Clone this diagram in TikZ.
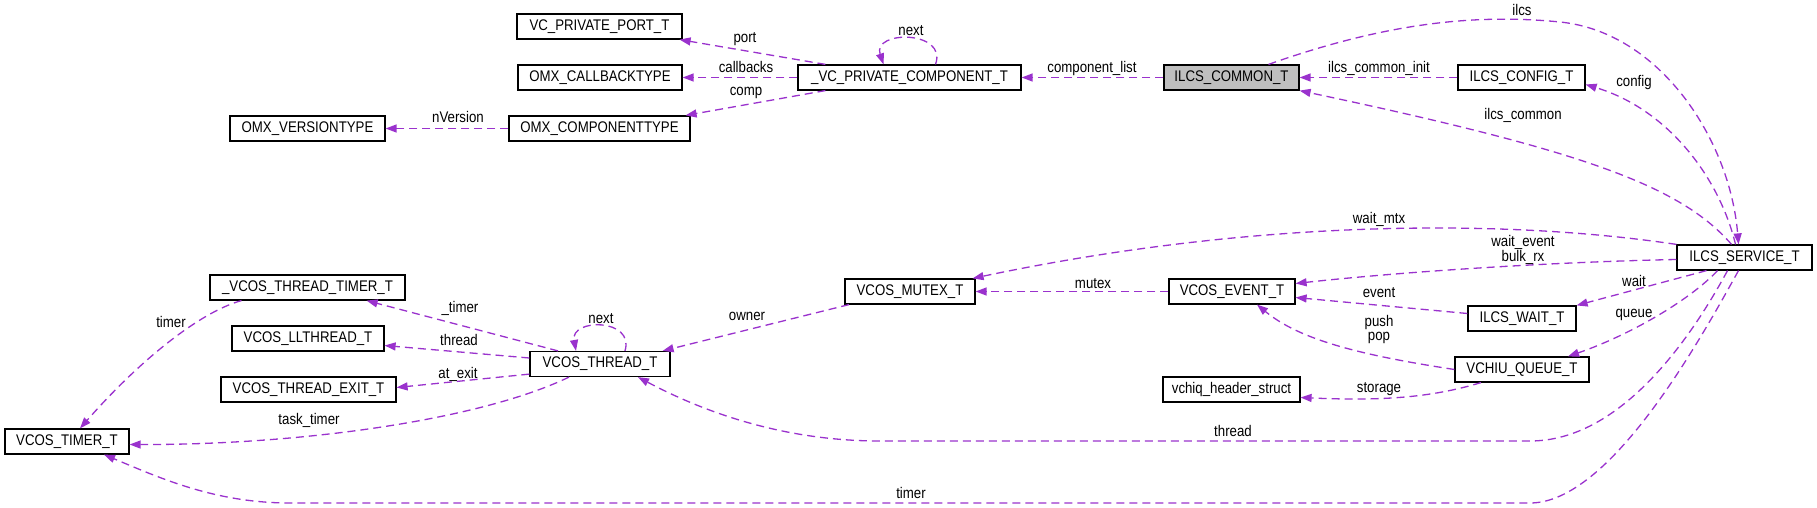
\documentclass[tikz,border=0pt]{standalone}
\usepackage{fontspec}
\setmainfont{Liberation Sans}[FakeStretch=0.86]
\usepackage{xcolor}
\usepackage{tikz}
\usetikzlibrary{arrows.meta}
\definecolor{orchid}{HTML}{9A32CD}
\definecolor{boxgray}{HTML}{BFBFBF}
\newcommand{\dfont}{\fontsize{15.4}{14}\selectfont}

\begin{document}
\begin{tikzpicture}[x=1pt,y=-1pt,
  cls/.style={draw=black,line width=1.2pt,minimum height=25pt,inner xsep=2pt,inner ysep=0pt,font=\dfont},
  mem/.style={draw=orchid,line width=1.3pt,dash pattern=on 8pt off 5pt,-{Triangle[length=11pt,width=8pt]}},
  lbl/.style={inner sep=0pt,text height=11pt,text depth=3pt,font=\dfont},
  lbl2/.style={inner sep=0pt,align=center,font=\dfont}]
\useasboundingbox (0,0) rectangle (1817,508);
\node[cls,minimum width=165pt] (port) at (599.5,26.5) {VC\_PRIVATE\_PORT\_T};
\node[cls,minimum width=164pt] (cb) at (600,77.5) {OMX\_CALLBACKTYPE};
\node[cls,minimum width=181pt] (omxcomp) at (599.5,128.5) {OMX\_COMPONENTTYPE};
\node[cls,minimum width=155pt] (omxver) at (307.5,128.5) {OMX\_VERSIONTYPE};
\node[cls,minimum width=223pt] (vccomp) at (909.5,77.5) {\_VC\_PRIVATE\_COMPONENT\_T};
\node[cls,fill=boxgray,minimum width=135pt] (common) at (1231.5,77.5) {ILCS\_COMMON\_T};
\node[cls,minimum width=127pt] (config) at (1521.5,77.5) {ILCS\_CONFIG\_T};
\node[cls,minimum width=135pt] (svc) at (1744.5,257.5) {ILCS\_SERVICE\_T};
\node[cls,minimum width=195pt] (ttimer) at (307.5,287.5) {\_VCOS\_THREAD\_TIMER\_T};
\node[cls,minimum width=152pt] (llthread) at (308,338.5) {VCOS\_LLTHREAD\_T};
\node[cls,minimum width=175pt] (texit) at (308.5,389.5) {VCOS\_THREAD\_EXIT\_T};
\node[cls,minimum width=140pt] (thread) at (600,364) {VCOS\_THREAD\_T};
\node[cls,minimum width=124pt] (timer) at (67,441.5) {VCOS\_TIMER\_T};
\node[cls,minimum width=130pt] (mutex) at (910,291.5) {VCOS\_MUTEX\_T};
\node[cls,minimum width=126pt] (event) at (1232,291.5) {VCOS\_EVENT\_T};
\node[cls,minimum width=137pt] (hdr) at (1231.5,389.5) {vchiq\_header\_struct};
\node[cls,minimum width=108pt] (wait) at (1522,318.5) {ILCS\_WAIT\_T};
\node[cls,minimum width=134pt] (queue) at (1522,369.5) {VCHIU\_QUEUE\_T};
\draw[mem] ([xshift=28pt]vccomp.north west) -- ([xshift=-3pt]port.south east);
\draw[mem] (vccomp.west) -- (cb.east);
\draw[mem] ([xshift=28pt]vccomp.south west) -- ([xshift=-5pt]omxcomp.north east);
\draw[mem] ([xshift=26pt]vccomp.north) .. controls (948,30) and (872,30) .. ([xshift=-26pt]vccomp.north);
\draw[mem] (omxcomp.west) -- (omxver.east);
\draw[mem] (common.west) -- (vccomp.east);
\draw[mem] (config.west) -- (common.east);
\draw[mem] ([xshift=37pt]common.north) .. controls (1380,25) and (1470,13) .. (1560,22) .. controls (1660,32) and (1730,140) .. ([xshift=-6pt]svc.north);
\draw[mem] ([xshift=-13pt]svc.north) .. controls (1680,185) and (1580,150) .. (common.south east);
\draw[mem] ([xshift=-9pt]svc.north) .. controls (1720,180) and (1670,110) .. ([yshift=-7pt]config.east);
\draw[mem] (svc.north west) .. controls (1500,218) and (1250,220) .. ([xshift=-3pt]mutex.north east);
\draw[mem] ([yshift=-2pt]svc.west) .. controls (1550,262) and (1400,272) .. ([yshift=8pt]event.east);
\draw[mem] ([yshift=5pt]wait.west) -- ([yshift=-6pt]event.east);
\draw[mem] (queue.west) .. controls (1360,355) and (1300,340) .. ([xshift=25pt]event.south);
\draw[mem] ([xshift=-41pt]queue.south) .. controls (1430,398) and (1380,401) .. ([yshift=-8pt]hdr.east);
\draw[mem] ([xshift=-38pt]svc.south) -- (wait.north east);
\draw[mem] ([xshift=-27pt]svc.south) .. controls (1690,300) and (1630,335) .. ([xshift=46pt]queue.north);
\draw[mem] ([xshift=-17pt]svc.south) .. controls (1690,340) and (1620,441) .. (1530,441) -- (880,441) .. controls (780,441) and (700,410) .. ([xshift=38pt]thread.south);
\draw[mem] ([xshift=-6pt]svc.south) .. controls (1700,340) and (1610,503) .. (1530,503) -- (290,503) .. controls (215,503) and (160,478) .. ([xshift=37pt]timer.south);
\draw[mem] ([xshift=-31pt]thread.south) .. controls (480,420) and (300,445) .. ([yshift=-3pt]timer.east);
\draw[mem] ([xshift=-66pt]ttimer.south) .. controls (200,312) and (140,360) .. ([xshift=13pt]timer.north);
\draw[mem] ([xshift=-42pt]thread.north) -- ([xshift=-39pt]ttimer.south east);
\draw[mem] ([yshift=6pt]thread.west) -- ([yshift=-7pt]llthread.east);
\draw[mem] ([yshift=3pt]thread.south west) -- ([yshift=2pt]texit.east);
\draw[mem] ([xshift=25pt]thread.north) .. controls (635,318) and (570,318) .. ([xshift=-24pt]thread.north);
\draw[mem] ([xshift=-61pt]mutex.south) -- ([xshift=-8pt]thread.north east);
\draw[mem] (event.west) -- (mutex.east);
\node[lbl] (lport) at (745,39) {port};
\node[lbl] (lcallbacks) at (746,69) {callbacks};
\node[lbl] (lcomp) at (746,92) {comp};
\node[lbl] (lnextc) at (911,32) {next};
\node[lbl] (lcomplist) at (1092,69) {component\_list};
\node[lbl] (lversion) at (458,119) {nVersion};
\node[lbl] (lilcs) at (1522,12) {ilcs};
\node[lbl] (linit) at (1379,69) {ilcs\_common\_init};
\node[lbl] (lconfig) at (1634,83) {config};
\node[lbl] (lcommon) at (1523,116) {ilcs\_common};
\node[lbl] (lwaitmtx) at (1379,219) {wait\_mtx};
\node[lbl2] (lwaitevent) at (1523,250) {wait\_event\\bulk\_rx};
\node[lbl] (levent) at (1379,293) {event};
\node[lbl] (lwait) at (1634,282) {wait};
\node[lbl] (lqueue) at (1634,313) {queue};
\node[lbl2] (lpushpop) at (1379,330) {push\\pop};
\node[lbl] (lstorage) at (1379,388) {storage};
\node[lbl] (lthreadsvc) at (1233,432) {thread};
\node[lbl] (ltimersvc) at (911,494) {timer};
\node[lbl] (lmutex) at (1093,284) {mutex};
\node[lbl] (lowner) at (747,316) {owner};
\node[lbl] (ltimer) at (171,323) {timer};
\node[lbl] (lttimer) at (460,308) {\_timer};
\node[lbl] (lnextt) at (601,319) {next};
\node[lbl] (lthread) at (459,341) {thread};
\node[lbl] (lexit) at (458,374) {at\_exit};
\node[lbl] (ltask) at (309,420) {task\_timer};
\end{tikzpicture}
\end{document}
